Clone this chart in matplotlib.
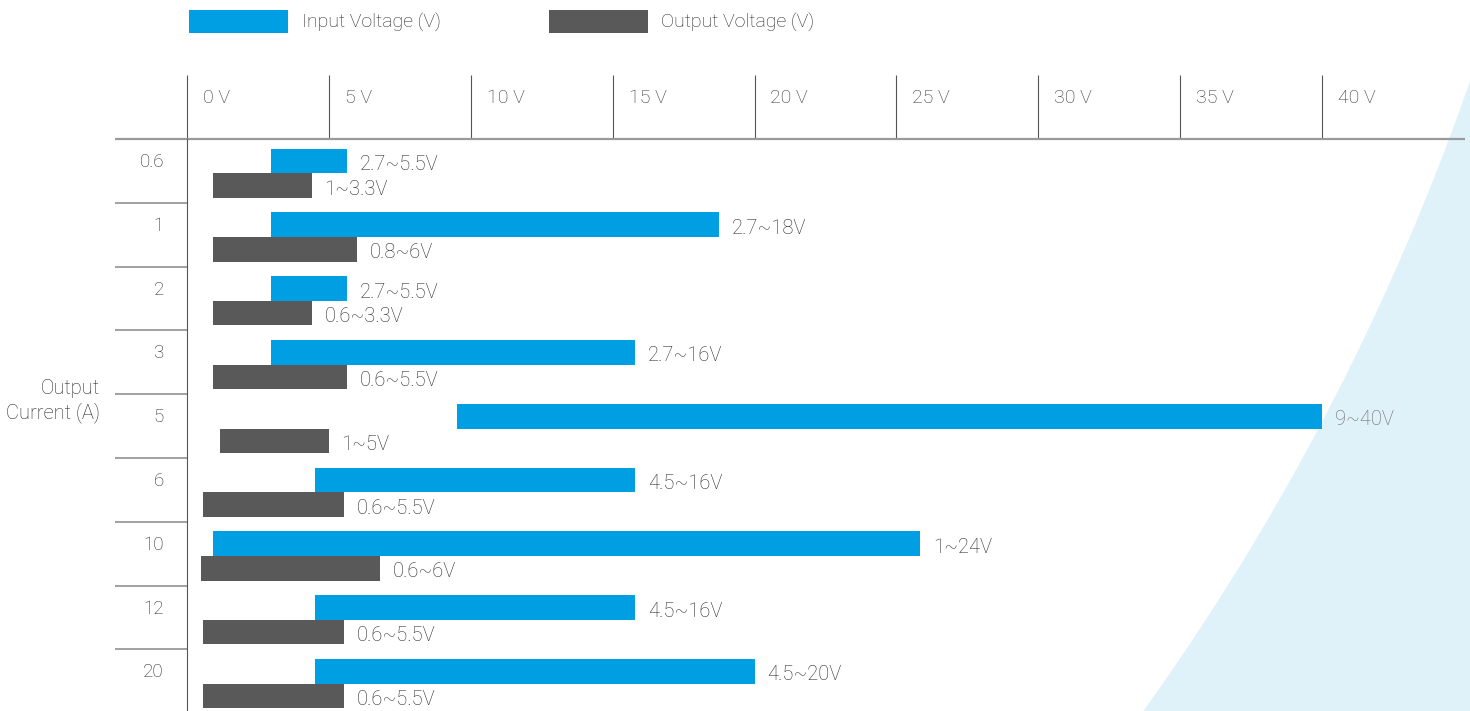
import numpy as np
import matplotlib
matplotlib.use("Agg")
import matplotlib.pyplot as plt
from matplotlib.patches import Polygon

plt.rcParams['font.family'] = ['Roboto', 'DejaVu Sans']
plt.rcParams['font.weight'] = 'light'

# output current categories (A)
categories = ["0.6", "1", "2", "3", "5", "6", "10", "12", "20"]

# bar extents as drawn in the chart (V)
in_start = [2.95, 2.95, 2.95, 2.95, 9.5, 4.5, 0.9, 4.5, 4.5]
in_end = [5.65, 18.75, 5.65, 15.8, 40.0, 15.8, 25.85, 15.8, 20.0]
out_start = [0.9, 0.9, 0.9, 0.9, 1.15, 0.55, 0.5, 0.55, 0.55]
out_end = [4.4, 6.0, 4.4, 5.65, 5.0, 5.55, 6.8, 5.55, 5.55]

in_labels = ["2.7~5.5V", "2.7~18V", "2.7~5.5V", "2.7~16V", "9~40V",
             "4.5~16V", "1~24V", "4.5~16V", "4.5~20V"]
out_labels = ["1~3.3V", "0.8~6V", "0.6~3.3V", "0.6~5.5V", "1~5V",
              "0.6~5.5V", "0.6~6V", "0.6~5.5V", "0.6~5.5V"]

ticks = [0, 5, 10, 15, 20, 25, 30, 35, 40]
tick_labels = ["0 V", "5 V", "10 V", "15 V", "20 V", "25 V", "30 V", "35 V", "40 V"]

blue = "#009fe3"
grey = "#595959"
txt = "#2a2a2a"

W, H = 1470, 711
fig = plt.figure(figsize=(W / 100, H / 100), dpi=100)

# axes box in pixels: x 187..1465, y 139..711
ax = fig.add_axes([187 / W, 0, (1465 - 187) / W, (711 - 139) / H])
ax.patch.set_visible(False)
xmax = (1465 - 187) / ((1322 - 187) / 40)
ax.set_xlim(0, xmax)
ax.set_ylim(8.465, -0.5)

# light blue background swoosh (arc of a large circle)
cx, cy, r = -869.6, -732.2, 2476.9
yy = np.linspace(0, H, 200)
xx = cx + np.sqrt(r ** 2 - (yy - cy) ** 2)
pts = np.column_stack([xx / W, 1 - yy / H])
pts = np.vstack([pts, [[1.2, 0], [1.2, 1]]])
fig.patches.append(Polygon(pts, closed=True, transform=fig.transFigure,
                           facecolor="#dff1f9", edgecolor="none", zorder=-1))

y = np.arange(len(categories))
off = 0.04
bh_in, bh_out = 0.39, 0.38
ax.barh(y + off - bh_in / 2, np.array(in_end) - np.array(in_start), left=in_start,
        height=bh_in, color=blue, label="Input Voltage (V)")
ax.barh(y + off + bh_out / 2, np.array(out_end) - np.array(out_start), left=out_start,
        height=bh_out, color=grey, label="Output Voltage (V)")

for i in range(len(categories)):
    c = "#6a6a6a" if in_end[i] >= 40 else txt
    ax.annotate(in_labels[i], (in_end[i], y[i] + off - bh_in / 2), xytext=(9, -2.5),
                textcoords="offset points", va="center", ha="left", fontsize=14.5, color=c)
    ax.annotate(out_labels[i], (out_end[i], y[i] + off + bh_out / 2), xytext=(9, -2.5),
                textcoords="offset points", va="center", ha="left", fontsize=14.5, color=txt)

# category labels and row separators
ytr = ax.get_yaxis_transform()
x_left = (115 - 187) / (1465 - 187)
for i, cat in enumerate(categories):
    ax.text(-0.018, i - 0.14, cat, transform=ytr, ha="right", va="center",
            fontsize=13.5, color=txt)
ax.hlines(np.arange(len(categories)) + 0.5, x_left, 0, transform=ytr,
          color="#9a9a9a", lw=1.3, clip_on=False)
ax.hlines(-0.5, x_left, 1, transform=ytr, color="#9a9a9a", lw=1.6, clip_on=False)

# top scale
ax.xaxis.tick_top()
ax.set_xticks(ticks)
ax.set_xticklabels([])
ax.tick_params(axis="x", direction="out", length=46, width=0.8, color="#555555")
ax.set_yticks([])
xtr = ax.get_xaxis_transform()
for t, lab in zip(ticks, tick_labels):
    ax.text(t + 0.56, 1 + (139 - 98) / 572, lab, transform=xtr, ha="left", va="center",
            fontsize=14, color="#333333")

for s in ["top", "right", "bottom"]:
    ax.spines[s].set_visible(False)
ax.spines["left"].set_color("#555555")
ax.spines["left"].set_linewidth(0.8)

fig.text(100 / W, 1 - 401 / H, "Output\nCurrent (A)", ha="right", va="center",
         multialignment="right", fontsize=14.5, color=txt, linespacing=1.3)

fig.legend(loc="upper left", bbox_to_anchor=(189 / W, 1 - 10 / H), ncol=2, frameon=False,
           fontsize=14, handlelength=5.1, handleheight=1.45, handletextpad=0.7,
           columnspacing=5.55, borderpad=0, borderaxespad=0, labelcolor=txt)

fig.savefig("out.png", dpi=100)
